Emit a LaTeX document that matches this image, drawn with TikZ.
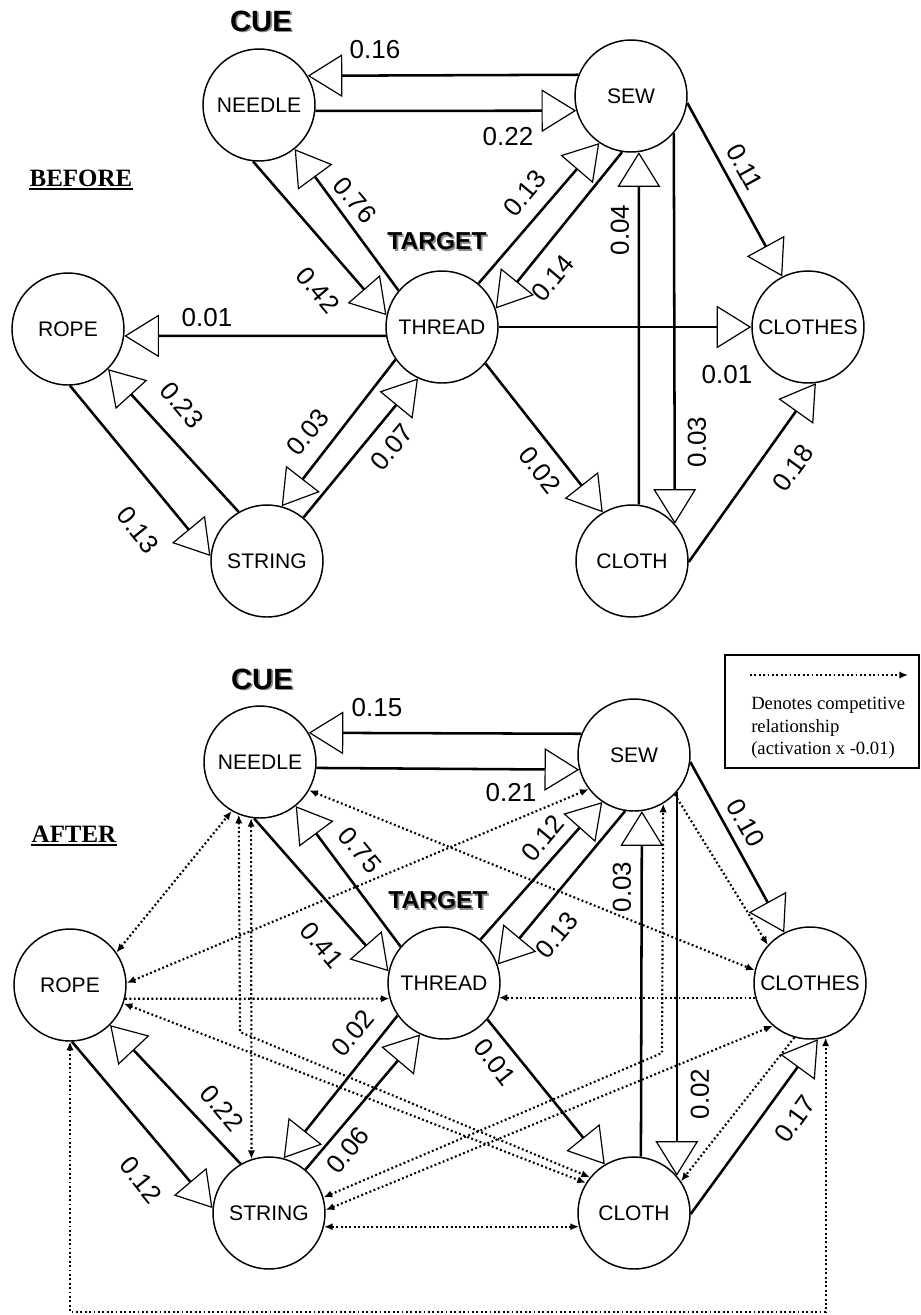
\documentclass[tikz,border=0pt]{standalone}
\usepackage{fontspec}
\setmainfont{Liberation Serif}
\setsansfont{Liberation Sans}
\usetikzlibrary{arrows.meta}
\newcommand{\shadowtext}[1]{\makebox[0pt][l]{\hspace{1.3pt}\raisebox{-1.3pt}{\color{black!45}#1}}#1}
\tikzset{
  word_/.style  = {shape=circle, draw, line width=1.1pt, minimum size=84pt, inner sep=0pt,
                   font=\sffamily\fontsize{15.8}{18}\selectfont},
  link_/.style  = {draw, line width=1.9pt,
                   -{Triangle[open, length=26pt, width=32pt, line width=0.9pt]}},
  comp_/.style  = {draw, line width=1.6pt, dash pattern=on 1.4pt off 1.9pt,
                   >={Latex[length=6.5pt, width=5.5pt]}},
  wt_/.style    = {font=\sffamily\fontsize{19.5}{22}\selectfont, inner sep=0pt},
  role_/.style  = {font=\sffamily\bfseries\fontsize{22}{26}\selectfont},
  phase_/.style = {font=\bfseries\fontsize{18.7}{22}\selectfont, inner sep=0pt}
}

\begin{document}
\begin{tikzpicture}[x=0.75pt, y=-0.75pt]
  \useasboundingbox (0,0) rectangle (921,1315);

  % before
  \node [phase_] (before) at (81,178) {BEFORE};
  \draw [line width=1.8pt] ([yshift=-2pt]before.base west) -- ([yshift=-2pt]before.base east);
  \node [role_] (cue1) at (261,22) {\shadowtext{CUE}};
  \node [role_, font=\sffamily\bfseries\fontsize{18.4}{22}\selectfont] (target1) at (437,242) {\shadowtext{TARGET}};

  \node [word_] (needle1)  at (259,105) {NEEDLE};
  \node [word_] (sew1)     at (631,96)  {SEW};
  \node [word_] (thread1)  at (442,327) {THREAD};
  \node [word_] (rope1)    at (68,329)  {ROPE};
  \node [word_] (string1)  at (267,561) {STRING};
  \node [word_] (cloth1)   at (632,561) {CLOTH};
  \node [word_] (clothes1) at (808,327) {CLOTHES};

  \draw [link_] (sew1.158.7) -- (needle1.31) node [wt_] (lb1) at (375,50) {0.16};
  \draw [link_] (needle1.-6.3) -- (sew1.195.8) node [wt_] (lb2) at (508,137) {0.22};
  \draw [link_] (needle1.264) -- (thread1.168.5) node [wt_, rotate=-50] (lb3) at (318,290) {0.42};
  \draw [link_] (thread1.140) -- (needle1.-51) node [wt_, rotate=-50] (lb4) at (355,200) {0.76};
  \draw [link_] (thread1.50) -- (sew1.236) node [wt_, rotate=50] (lb5) at (525,193) {0.13};
  \draw [link_] (sew1.261) -- (thread1.19) node [wt_, rotate=50] (lb6) at (553,278) {0.14};
  \draw [link_] (cloth1.83) -- (sew1.-82) node [wt_, rotate=90] (lb7) at (620,230) {0.04};
  \draw [link_] (sew1.-41) -- (cloth1.41) node [wt_, rotate=90] (lb8) at (697,442) {0.03};
  \draw [link_] (sew1.-7) -- (clothes1.117.5) node [wt_, rotate=-61] (lb9) at (745,167) {0.11};
  \draw [link_] (thread1.0) -- (clothes1.180) node [wt_] (lb10) at (727,375) {0.01};
  \draw [link_] (thread1.189.4) -- (rope1.-7) node [wt_] (lb11) at (207,318) {0.01};
  \draw [link_] (string1.120) -- (rope1.-45.7) node [wt_, rotate=-50] (lb12) at (182,405) {0.23};
  \draw [link_] (rope1.-88) -- (string1.175) node [wt_, rotate=-51] (lb13) at (138,530) {0.13};
  \draw [link_] (thread1.215.5) -- (string1.75.5) node [wt_, rotate=50] (lb14) at (308,432) {0.03};
  \draw [link_] (string1.50.7) -- (thread1.245) node [wt_, rotate=50] (lb15) at (392,447) {0.07};
  \draw [link_] (thread1.-40.8) -- (cloth1.121) node [wt_, rotate=-52] (lb16) at (540,470) {0.02};
  \draw [link_] (cloth1.-1) -- (clothes1.-82) node [wt_, rotate=54] (lb17) at (793,468) {0.18};

  % after
  \node [phase_] (after) at (74,834) {AFTER};
  \draw [line width=1.8pt] ([yshift=-2pt]after.base west) -- ([yshift=-2pt]after.base east);
  \node [role_] (cue2) at (262,680) {\shadowtext{CUE}};
  \node [role_, font=\sffamily\bfseries\fontsize{18.4}{22}\selectfont] (target2) at (438,901) {\shadowtext{TARGET}};

  \node [word_] (needle2)  at (260,762)  {NEEDLE};
  \node [word_] (sew2)     at (634,755)  {SEW};
  \node [word_] (thread2)  at (444,983)  {THREAD};
  \node [word_] (rope2)    at (70,985)   {ROPE};
  \node [word_] (string2)  at (269,1213) {STRING};
  \node [word_] (cloth2)   at (634,1213) {CLOTH};
  \node [word_] (clothes2) at (810,983)  {CLOTHES};

  \coordinate (bendN) at (240,1032);
  \coordinate (bendS) at (662,1053);
  \coordinate (loopB) at (70,1312);

  \draw [comp_, <->] (rope2.35) -- (needle2.240);
  \draw [comp_, <->] (needle2.261.6) -- (string2.108);
  \draw [comp_, <->] (needle2.248.7) -- (bendN) -- (cloth2.141.5);
  \draw [comp_, <->] (needle2.-30) -- (clothes2.167);
  \draw [comp_, <->] (rope2.2) -- (sew2.217);
  \draw [comp_, ->] (rope2.-14.8) -- (thread2.196.9);
  \draw [comp_, <->] (rope2.-19) -- (cloth2.148);
  \draw [comp_, <->] (rope2.-90) -- (loopB) -| (clothes2.-74);
  \draw [comp_, <->] (string2.16) -- (bendS) -- (sew2.-59.4);
  \draw [comp_, <->] (string2.3) -- (clothes2.229);
  \draw [comp_, <->] (string2.-14.8) -- (cloth2.194.8);
  \draw [comp_, ->] (sew2.-44) -- (clothes2.138);
  \draw [comp_, ->] (clothes2.195.8) -- (thread2.-15.8);
  \draw [comp_, ->] (clothes2.-106) -- (cloth2.34);

  \draw [link_] (sew2.158.7) -- (needle2.31) node [wt_] (la1) at (377,708) {0.15};
  \draw [link_] (needle2.-6.3) -- (sew2.195.8) node [wt_] (la2) at (511,793) {0.21};
  \draw [link_] (needle2.264) -- (thread2.168.5) node [wt_, rotate=-50] (la3) at (322,945) {0.41};
  \draw [link_] (thread2.140) -- (needle2.-51) node [wt_, rotate=-50] (la4) at (360,850) {0.75};
  \draw [link_] (thread2.50) -- (sew2.236) node [wt_, rotate=50] (la5) at (543,838) {0.12};
  \draw [link_] (sew2.261) -- (thread2.19) node [wt_, rotate=50] (la6) at (557,935) {0.13};
  \draw [link_] (cloth2.83) -- (sew2.-82) node [wt_, rotate=90] (la7) at (622,887) {0.03};
  \draw [link_] (sew2.-41) -- (cloth2.41) node [wt_, rotate=90] (la8) at (700,1094) {0.02};
  \draw [link_] (sew2.-7) -- (clothes2.117.5) node [wt_, rotate=-61] (la9) at (746,823) {0.10};
  \draw [link_] (string2.120) -- (rope2.-45.7) node [wt_, rotate=-50] (la10) at (222,1108) {0.22};
  \draw [link_] (rope2.-88) -- (string2.175) node [wt_, rotate=-51] (la11) at (141,1180) {0.12};
  \draw [link_] (thread2.215.5) -- (string2.75.5) node [wt_, rotate=50] (la12) at (353,1033) {0.02};
  \draw [link_] (string2.50.7) -- (thread2.245) node [wt_, rotate=50] (la13) at (348,1150) {0.06};
  \draw [link_] (thread2.-40.8) -- (cloth2.121) node [wt_, rotate=-52] (la14) at (495,1062) {0.01};
  \draw [link_] (cloth2.-1) -- (clothes2.-82) node [wt_, rotate=54] (la15) at (795,1119) {0.17};

  % key
  \draw [line width=2.2pt] (725,655) rectangle (919,768);
  \coordinate (keyL) at (750,675);
  \coordinate (keyR) at (908,675);
  \draw [comp_, ->] (keyL) -- (keyR);
  \node [anchor=north west, inner sep=0pt, align=left, font=\fontsize{14}{16.9}\selectfont]
    (keytext) at (751,697) {Denotes competitive\\relationship\\(activation x -0.01)};
\end{tikzpicture}
\end{document}
